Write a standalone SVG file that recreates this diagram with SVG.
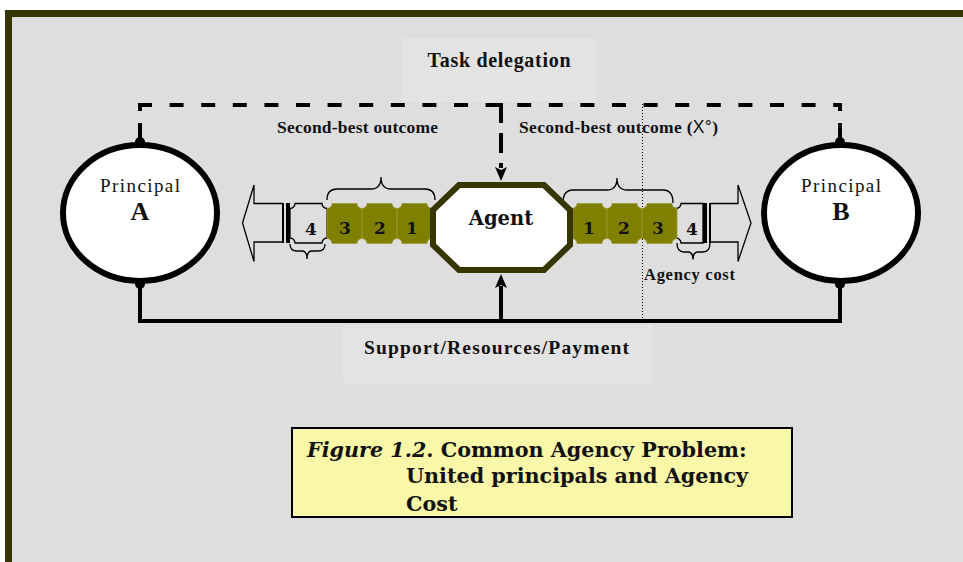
<svg xmlns="http://www.w3.org/2000/svg" width="963" height="562" viewBox="0 0 963 562">
  <style>
    .lbl { font-family: "Liberation Serif", "Times New Roman", serif; font-weight: bold; fill: #111; }
    .reg { font-family: "Liberation Serif", "Times New Roman", serif; fill: #111; }
    .geo { font-family: "DejaVu Serif", Georgia, serif; font-weight: bold; fill: #111; }
    .thin { fill: none; stroke: #000; stroke-width: 1.3; }
    .tile { fill: #808000; stroke: #9a9a3a; stroke-width: 0.8; }
    .ticket { fill: none; stroke: #000; stroke-width: 1.3; }
    .principal { fill: #fff; stroke: #000; stroke-width: 6; }
    .link { fill: none; stroke: #000; stroke-width: 4; }
  </style>
  <defs>
    <!-- ticket-shaped tile with concave corners -->
    <path id="tileL" d="M5,0 H30 A5 5 0 0 0 35,5 V35 A5 5 0 0 0 30,40 H5 A5 5 0 0 0 0,35 V5 A5 5 0 0 0 5,0 Z"/>
  </defs>

  <!-- page background and frame -->
  <rect x="0" y="0" width="963" height="562" fill="#ffffff"/>
  <rect x="8.5" y="13.5" width="1000" height="600" fill="#dedede" stroke="#363600" stroke-width="7"/>

  <!-- label panels -->
  <rect x="403" y="38" width="193" height="64" fill="#e3e3e3"/>
  <rect x="343" y="325" width="309" height="58" fill="#e3e3e3"/>

  <g id="connectors">
    <!-- task delegation (dashed) -->
    <path class="link" d="M138,105 H842" stroke-dasharray="14 17.6"/>
    <path class="link" d="M140,103 V111"/>
    <path class="link" d="M140,123 V142"/>
    <path class="link" d="M840,103 V111"/>
    <path class="link" d="M840,123 V142"/>
    <path class="link" d="M501,103 V168" stroke-dasharray="20 10"/>
    <path d="M501,181 L495,167 L501,170 L507,167 Z" fill="#000"/>
    <!-- support / resources / payment -->
    <path class="link" d="M140,284 V321 H840 V284"/>
    <path class="link" d="M501,321 V286"/>
    <path d="M501,274 L495,288 L501,285 L507,288 Z" fill="#000"/>
    <!-- agency cost marker -->
    <line x1="642.5" y1="104" x2="642.5" y2="320" stroke="#000" stroke-width="1" stroke-dasharray="1 2"/>
  </g>

  <g id="principal-a">
    <ellipse class="principal" cx="140" cy="213" rx="77" ry="68"/>
    <circle cx="140" cy="142" r="5" fill="#000"/>
    <circle cx="140" cy="284" r="5" fill="#000"/>
    <text class="reg" x="140" y="192" font-size="19" text-anchor="middle" textLength="80">Principal</text>
    <text class="lbl" x="140" y="220" font-size="26" text-anchor="middle">A</text>
  </g>

  <g id="principal-b">
    <ellipse class="principal" cx="841" cy="213" rx="77" ry="68"/>
    <circle cx="840" cy="142" r="5" fill="#000"/>
    <circle cx="840" cy="284" r="5" fill="#000"/>
    <text class="reg" x="841" y="192" font-size="19" text-anchor="middle" textLength="80">Principal</text>
    <text class="lbl" x="841" y="220" font-size="26" text-anchor="middle">B</text>
  </g>

  <g id="outcomes-a">
    <path class="thin" d="M283,203.5 H254 V185 L242.5,223 L254,261.5 V242 H283"/>
    <line x1="283" y1="203" x2="283" y2="243" stroke="#000" stroke-width="2"/>
    <line x1="288" y1="203" x2="288" y2="243" stroke="#000" stroke-width="4"/>
    <path class="ticket" d="M295,203.5 H322 A5 5 0 0 0 327,208.5 V238 A5 5 0 0 0 322,243 H295 A5 5 0 0 0 290,238 V208.5 A5 5 0 0 0 295,203.5 Z"/>
    <use href="#tileL" class="tile" x="327" y="203.5"/>
    <use href="#tileL" class="tile" x="362" y="203.5"/>
    <use href="#tileL" class="tile" x="397" y="203.5"/>
    <text class="geo" x="311" y="235" font-size="17" text-anchor="middle">4</text>
    <text class="geo" x="345" y="234" font-size="17" text-anchor="middle">3</text>
    <text class="geo" x="380" y="234" font-size="17" text-anchor="middle">2</text>
    <text class="geo" x="412" y="234" font-size="17" text-anchor="middle">1</text>
    <path class="thin" d="M327,200 Q327,189 337,189 H371 Q381,189 381,177 Q381,189 391,189 H425 Q435,189 435,200"/>
    <path class="thin" d="M290,244 Q290,251 297,251 H302 Q307,251 307,259 Q307,251 312,251 H318 Q325,251 325,244"/>
  </g>

  <g id="outcomes-b">
    <path class="thin" d="M711,203.5 H738 V185 L751,223 L738,261.5 V242 H711"/>
    <line x1="710" y1="203" x2="710" y2="243" stroke="#000" stroke-width="2"/>
    <line x1="705" y1="203" x2="705" y2="243" stroke="#000" stroke-width="4"/>
    <path class="ticket" d="M681,203.5 H703 V243 H681 A5 5 0 0 0 676,238 V208.5 A5 5 0 0 0 681,203.5 Z"/>
    <use href="#tileL" class="tile" x="572" y="203.5"/>
    <use href="#tileL" class="tile" x="607" y="203.5"/>
    <use href="#tileL" class="tile" x="642" y="203.5"/>
    <text class="geo" x="589" y="234" font-size="17" text-anchor="middle">1</text>
    <text class="geo" x="624" y="234" font-size="17" text-anchor="middle">2</text>
    <text class="geo" x="658" y="234" font-size="17" text-anchor="middle">3</text>
    <text class="geo" x="692" y="235" font-size="17" text-anchor="middle">4</text>
    <path class="thin" d="M563,203 Q563,190 573,190 H607 Q617,190 617,178 Q617,190 627,190 H663 Q673,190 673,203"/>
    <path class="thin" d="M677,243 Q677,252 684,252 H688 Q693,252 693,259.5 Q693,252 698,252 H703 Q710,252 710,243"/>
  </g>

  <g id="agent">
    <path d="M459,185 H544 L570,210 V245 L544,270 H459 L433,245 V210 Z" fill="#fff" stroke="#363600" stroke-width="6"/>
    <text class="geo" x="501" y="225" font-size="19.5" text-anchor="middle">Agent</text>
  </g>

  <g id="labels">
    <text class="lbl" x="499" y="67" font-size="20" text-anchor="middle" textLength="143">Task delegation</text>
    <text class="lbl" x="277" y="133" font-size="17.5" textLength="161">Second-best outcome</text>
    <text class="lbl" x="519" y="133" font-size="17.5" textLength="199">Second-best outcome (<tspan font-family="Liberation Sans, Arial, sans-serif" font-weight="normal">X°</tspan>)</text>
    <text class="lbl" x="644" y="280" font-size="16.5" textLength="91">Agency cost</text>
    <text class="lbl" x="364" y="354" font-size="19.5" textLength="265">Support/Resources/Payment</text>
  </g>

  <g id="caption">
    <rect x="292" y="428" width="500" height="89" fill="#f8f8a8" stroke="#000" stroke-width="2"/>
    <text class="geo" x="307" y="457" font-size="20.7"><tspan font-style="italic">Figure 1.2</tspan>. Common Agency Problem:</text>
    <text class="geo" x="406" y="483" font-size="20.7">United principals and Agency</text>
    <text class="geo" x="406" y="511" font-size="20.7">Cost</text>
  </g>
</svg>
